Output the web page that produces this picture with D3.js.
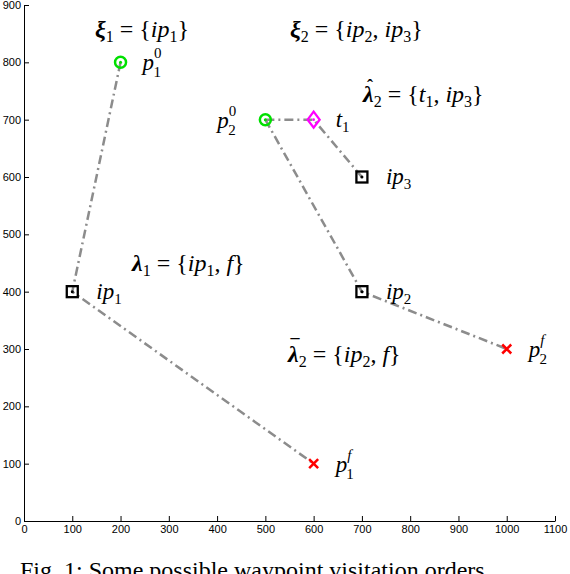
<!DOCTYPE html>
<html><head><meta charset="utf-8">
<script src="https://cdn.jsdelivr.net/npm/d3@7"></script>
<style>body{margin:0;background:#fff}svg{display:block}</style>
</head><body><div id="chart"></div>
<script>
// waypoints
const starts = [{x: 200, y: 800, label: 'p', sub: '1', sup: '0'}, {x: 500, y: 700, label: 'p', sub: '2', sup: '0'}]
const finals = [{x: 600, y: 100, label: 'p', sub: '1', sup: 'f'}, {x: 1000, y: 300, label: 'p', sub: '2', sup: 'f'}]
const interPts = [{x: 100, y: 400, label: 'ip', sub: '1'}, {x: 700, y: 400, label: 'ip', sub: '2'}, {x: 700, y: 600, label: 'ip', sub: '3'}]
const targets = [{x: 600, y: 700, label: 't', sub: '1'}]
const routes = [
  [[200, 800], [100, 400], [600, 100]],
  [[500, 700], [600, 700], [700, 600]],
  [[500, 700], [700, 400], [1000, 300]]
]
const xTicks = d3.range(0, 1101, 100)
const yTicks = d3.range(0, 901, 100)

const SERIF = "'Liberation Serif', 'DejaVu Serif', 'Times New Roman', serif"
const W = 570, H = 574
const x = d3.scaleLinear().domain([0, 1100]).range([24, 555])
const y = d3.scaleLinear().domain([0, 900]).range([521, 5])

const svg = d3.select('#chart').append('svg').attr('width', W).attr('height', H)

svg.append('g').attr('transform', 'translate(0,' + y(0) + ')')
  .call(d3.axisBottom(x).tickValues(xTicks).tickFormat(d3.format('d')).tickSize(-5).tickSizeOuter(0).tickPadding(4))
svg.append('g').attr('transform', 'translate(' + x(0) + ',0)')
  .call(d3.axisLeft(y).tickValues(yTicks).tickFormat(d3.format('d')).tickSize(-5).tickSizeOuter(0).tickPadding(3))
svg.selectAll('.tick text').attr('font-family', 'Liberation Sans, sans-serif').attr('font-size', 11).attr('fill', '#000')
svg.selectAll('.domain, .tick line').attr('stroke', '#000')

const line = d3.line().x(d => x(d[0])).y(d => y(d[1]))
svg.selectAll('.route').data(routes).enter().append('path')
  .attr('d', line).attr('fill', 'none').attr('stroke', '#8c8c8c')
  .attr('stroke-width', 2.5).attr('stroke-dasharray', '9,4,2,4')

svg.selectAll('.start').data(starts).enter().append('g')
  .attr('transform', d => 'translate(' + x(d.x) + ',' + y(d.y) + ')')
  .each(function () {
    const g = d3.select(this)
    g.append('circle').attr('r', 5.5).attr('fill', 'none').attr('stroke', '#00e000').attr('stroke-width', 2.5)
    g.append('circle').attr('r', 1.5).attr('fill', '#00e000')
  })
svg.selectAll('.ip').data(interPts).enter().append('g')
  .attr('transform', d => 'translate(' + x(d.x) + ',' + y(d.y) + ')')
  .each(function () {
    const g = d3.select(this)
    g.append('rect').attr('x', -5.5).attr('y', -5.5).attr('width', 11).attr('height', 11)
      .attr('fill', 'none').attr('stroke', '#000').attr('stroke-width', 2.3)
    g.append('circle').attr('r', 1.5).attr('fill', '#000')
  })
svg.selectAll('.tgt').data(targets).enter().append('g')
  .attr('transform', d => 'translate(' + x(d.x) + ',' + y(d.y) + ')')
  .each(function () {
    const g = d3.select(this)
    g.append('path').attr('d', 'M0,-8L6,0L0,8L-6,0Z').attr('fill', 'none').attr('stroke', '#ff00ff').attr('stroke-width', 2.3)
    g.append('circle').attr('r', 1.3).attr('fill', '#ff00ff')
  })
svg.selectAll('.fin').data(finals).enter().append('path')
  .attr('transform', d => 'translate(' + x(d.x) + ',' + y(d.y) + ')')
  .attr('d', 'M-4.5,-4.5L4.5,4.5M-4.5,4.5L4.5,-4.5').attr('stroke', '#ff0000').attr('stroke-width', 2.5)

// point labels
function ptLabel(d, dx, dy) {
  const t = svg.append('text').attr('x', x(d.x) + dx).attr('y', y(d.y) + dy)
    .attr('font-family', SERIF).attr('font-size', 23)
  t.append('tspan').attr('font-style', 'italic').text(d.label)
  if (d.sup) {
    t.append('tspan').attr('font-size', 15).attr('dy', -12).attr('font-style', d.sup === 'f' ? 'italic' : 'normal').text(d.sup)
    t.append('tspan').attr('font-size', 15).attr('dx', d.sup === 'f' ? -5 : -8).attr('dy', 19).text(d.sub)
  } else {
    t.append('tspan').attr('font-size', 15).attr('dy', 5).text(d.sub)
  }
}
ptLabel(starts[0], 22, 8)
ptLabel(starts[1], -48, 8)
ptLabel(finals[0], 22, 8)
ptLabel(finals[1], 22, 8)
interPts.forEach(d => ptLabel(d, 24, 7))
ptLabel(targets[0], 22, 7)

// set labels
function setLabel(px, py, sym, accent, sub, items) {
  const t = svg.append('text').attr('x', px).attr('y', py)
    .attr('font-family', SERIF).attr('font-size', 24)
  t.append('tspan').attr('font-weight', 'bold').attr('font-style', 'italic').text(sym)
  t.append('tspan').attr('font-size', 16).attr('dy', 5).text(sub)
  t.append('tspan').attr('dy', -5).text(' = {')
  let shift = 0
  items.forEach((it, i) => {
    if (i) { t.append('tspan').attr('dy', shift).text(', '); shift = 0 }
    t.append('tspan').attr('font-style', 'italic').attr('dy', shift).text(it[0])
    shift = 0
    if (it[1]) { t.append('tspan').attr('font-size', 16).attr('dy', 5).text(it[1]); shift = -5 }
  })
  t.append('tspan').attr('dy', shift).text('}')
  if (accent) svg.append('text').attr('x', px + 7).attr('y', py - 10).attr('font-family', SERIF)
    .attr('font-size', 18).attr('font-weight', 'bold').attr('text-anchor', 'middle').text(accent)
}
setLabel(95, 37, 'ξ', null, '1', [['ip', '1']])
setLabel(290, 37, 'ξ', null, '2', [['ip', '2'], ['ip', '3']])
setLabel(363, 102, 'λ', 'ˆ', '2', [['t', '1'], ['ip', '3']])
setLabel(132, 271, 'λ', null, '1', [['ip', '1'], ['f', '']])
setLabel(288, 362, 'λ', '¯', '2', [['ip', '2'], ['f', '']])

svg.append('text').attr('x', 20).attr('y', 578).attr('font-family', SERIF)
  .attr('font-size', 24).text('Fig. 1: Some possible waypoint visitation orders.')
</script></body></html>
